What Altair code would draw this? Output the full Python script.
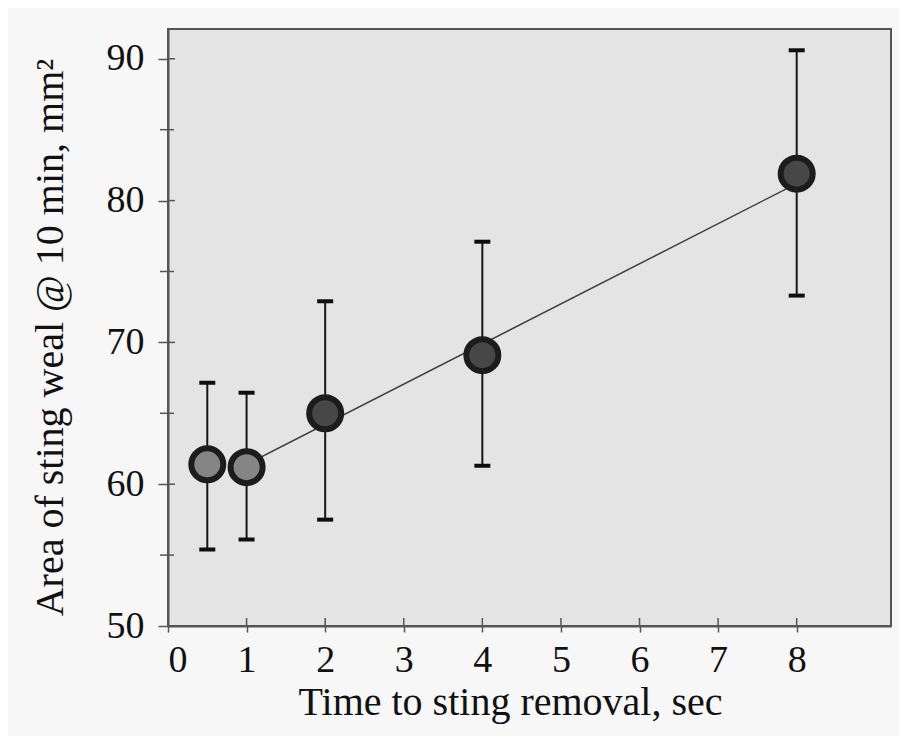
import altair as alt
import pandas as pd

# Data
times = [0.5, 1, 2, 4, 8]
means = [61.4, 61.2, 65.0, 69.1, 81.9]
upper = [67.15, 66.45, 72.9, 77.1, 90.6]
lower = [55.4, 56.1, 57.5, 61.3, 73.3]
shade = ["light", "light", "dark", "dark", "dark"]

fit_x = [1, 8]
fit_y = [61.4, 81.2]

major_y = [50, 60, 70, 80, 90]
minor_y = [55, 65, 75, 85]
major_x = [0, 1, 2, 3, 4, 5, 6, 7, 8]

W, H = 723, 597
FONT = "Liberation Serif"

df = pd.DataFrame({"t": times, "m": means, "hi": upper, "lo": lower, "shade": shade})
fit = pd.DataFrame({"t": fit_x, "m": fit_y})
ymaj = pd.DataFrame({"v": major_y})
ymin = pd.DataFrame({"v": minor_y})
xmaj = pd.DataFrame({"v": major_x})

xs = alt.Scale(domain=[0, 9.2], nice=False, zero=False)
ys = alt.Scale(domain=[50, 92.1], nice=False, zero=False)

xaxis = alt.Axis(
    values=major_x, format="d", grid=False,
    domainColor="#555555", domainWidth=2,
    tickColor="#555555", tickWidth=1.5, tickSize=6,
    labelFont=FONT, labelFontSize=38, labelColor="#111111", labelPadding=9,
    title="Time to sting removal, sec",
    titleFont=FONT, titleFontSize=40, titleFontWeight="normal", titleColor="#111111",
    titleBaseline="alphabetic", titleX=342, titleY=88, titleAnchor="start", titleAlign="center",
)
yaxis = alt.Axis(
    values=major_y, format="d", grid=False,
    domainColor="#555555", domainWidth=2,
    tickColor="#555555", tickWidth=1.5, tickSize=10,
    labelFont=FONT, labelFontSize=38, labelColor="#111111", labelPadding=14,
    title="Area of sting weal @ 10 min, mm²",
    titleFont=FONT, titleFontSize=40, titleFontWeight="normal", titleColor="#111111",
    titleBaseline="alphabetic", titleAngle=-90, titleX=-106, titleY=308,
    titleAnchor="start", titleAlign="center",
)

base = alt.Chart(df)

err = base.mark_rule(color="#161616", strokeWidth=2).encode(
    x=alt.X("t:Q", scale=xs, axis=xaxis),
    y=alt.Y("lo:Q", scale=ys, axis=yaxis),
    y2="hi:Q",
)
cap_hi = base.mark_tick(orient="horizontal", color="#0e0e0e", size=16, thickness=4, opacity=1).encode(
    x=alt.X("t:Q", scale=xs), y=alt.Y("hi:Q", scale=ys)
)
cap_lo = base.mark_tick(orient="horizontal", color="#0e0e0e", size=16, thickness=4, opacity=1).encode(
    x=alt.X("t:Q", scale=xs), y=alt.Y("lo:Q", scale=ys)
)
line = alt.Chart(fit).mark_line(color="#404040", strokeWidth=1.5).encode(
    x=alt.X("t:Q", scale=xs), y=alt.Y("m:Q", scale=ys)
)
pts = base.mark_point(filled=True, size=1024, strokeWidth=6, stroke="#1c1c1c", opacity=1).encode(
    x=alt.X("t:Q", scale=xs),
    y=alt.Y("m:Q", scale=ys),
    fill=alt.Fill("shade:N", scale=alt.Scale(domain=["light", "dark"], range=["#858585", "#474747"]), legend=None),
)

# inward parts of the major ticks and the minor ticks on the y axis
ytick_in = alt.Chart(ymaj).mark_rule(color="#555555", strokeWidth=1.5).encode(
    y=alt.Y("v:Q", scale=ys), x=alt.value(0), x2=alt.value(7)
)
ytick_minor = alt.Chart(ymin).mark_rule(color="#555555", strokeWidth=1.5).encode(
    y=alt.Y("v:Q", scale=ys), x=alt.value(-8), x2=alt.value(6)
)
xtick_in = alt.Chart(xmaj).mark_rule(color="#555555", strokeWidth=1.5).encode(
    x=alt.X("v:Q", scale=xs), y=alt.value(H), y2=alt.value(H - 8)
)

chart = alt.layer(err, cap_hi, cap_lo, line, pts, ytick_in, ytick_minor, xtick_in).properties(
    width=W, height=H,
    autosize=alt.AutoSizeParams(type="none"),
    padding={"left": 160, "top": 21, "right": 8, "bottom": 110},
    background="#f7f7f7",
).configure_view(
    fill="#e4e4e4", stroke="#555555", strokeWidth=2
)

chart.save("out.html", embed_options={"renderer": "svg", "actions": False})
